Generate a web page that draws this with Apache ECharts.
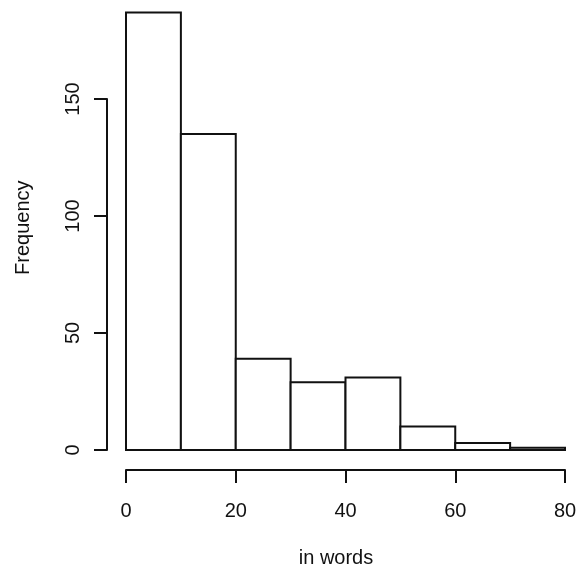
<!DOCTYPE html>
<html>
<head>
<meta charset="utf-8">
<script src="https://cdn.jsdelivr.net/npm/echarts@6/dist/echarts.min.js"></script>
<style>
  html, body { margin: 0; padding: 0; background: #fff; }
  #main { width: 576px; height: 574px; }
</style>
</head>
<body>
<div id="main"></div>
<script>
// histogram bins (lower edge, upper edge) and counts
var binStarts = [0, 10, 20, 30, 40, 50, 60, 70];
var binEnds = [10, 20, 30, 40, 50, 60, 70, 80];
var counts = [187, 135, 39, 29, 31, 10, 3, 1];
var xTicks = [0, 20, 40, 60, 80];
var yTicks = [0, 50, 100, 150];

var font = 'Liberation Sans';
var ink = '#111';

var chart = echarts.init(document.getElementById('main'));

var bins = [];
for (var i = 0; i < counts.length; i++) {
  bins.push([binStarts[i], binEnds[i], counts[i]]);
}

chart.setOption({
  backgroundColor: '#fff',
  animation: false,
  title: {
    text: 'in words',
    left: 331,
    top: 543,
    textAlign: 'center',
    textStyle: { fontFamily: font, fontSize: 20, fontWeight: 'normal', color: ink }
  },
  grid: [
    // plot region for the bars
    { left: 126, right: 11, top: 5.4, bottom: 124, outerBoundsMode: 'none', containLabel: false },
    // grid used only to draw the shorter y axis (0..150)
    { left: 107, right: 11, top: 99, bottom: 124, outerBoundsMode: 'none', containLabel: false }
  ],
  xAxis: [
    {
      gridIndex: 0,
      type: 'value',
      min: xTicks[0],
      max: xTicks[xTicks.length - 1],
      interval: 20,
      offset: 20,
      axisLine: { show: true, onZero: false, lineStyle: { color: ink, width: 2 } },
      axisTick: { show: true, length: 13, lineStyle: { color: ink, width: 2 } },
      axisLabel: { margin: 31, fontFamily: font, fontSize: 20, color: ink },
      splitLine: { show: false }
    },
    { gridIndex: 1, type: 'value', show: false, min: 0, max: 1 }
  ],
  yAxis: [
    {
      gridIndex: 0,
      type: 'value',
      min: 0,
      max: 190,
      name: 'Frequency',
      nameLocation: 'middle',
      nameGap: 93,
      nameTextStyle: { fontFamily: font, fontSize: 20, color: ink },
      axisLine: { show: false, onZero: false },
      axisTick: { show: false },
      axisLabel: { show: false },
      splitLine: { show: false }
    },
    {
      gridIndex: 1,
      type: 'value',
      min: yTicks[0],
      max: yTicks[yTicks.length - 1],
      interval: 50,
      axisLine: { show: true, onZero: false, lineStyle: { color: ink, width: 2 } },
      axisTick: { show: true, length: 13, lineStyle: { color: ink, width: 2 } },
      axisLabel: { rotate: 90, margin: 24, fontFamily: font, fontSize: 20, color: ink },
      splitLine: { show: false }
    }
  ],
  series: [
    {
      type: 'custom',
      xAxisIndex: 0,
      yAxisIndex: 0,
      data: bins,
      renderItem: function (params, api) {
        var p0 = api.coord([api.value(0), api.value(2)]);
        var p1 = api.coord([api.value(1), 0]);
        return {
          type: 'rect',
          shape: { x: p0[0], y: p0[1], width: p1[0] - p0[0], height: p1[1] - p0[1] },
          style: { fill: '#fff', stroke: ink, lineWidth: 2 }
        };
      }
    }
  ]
});
</script>
</body>
</html>
